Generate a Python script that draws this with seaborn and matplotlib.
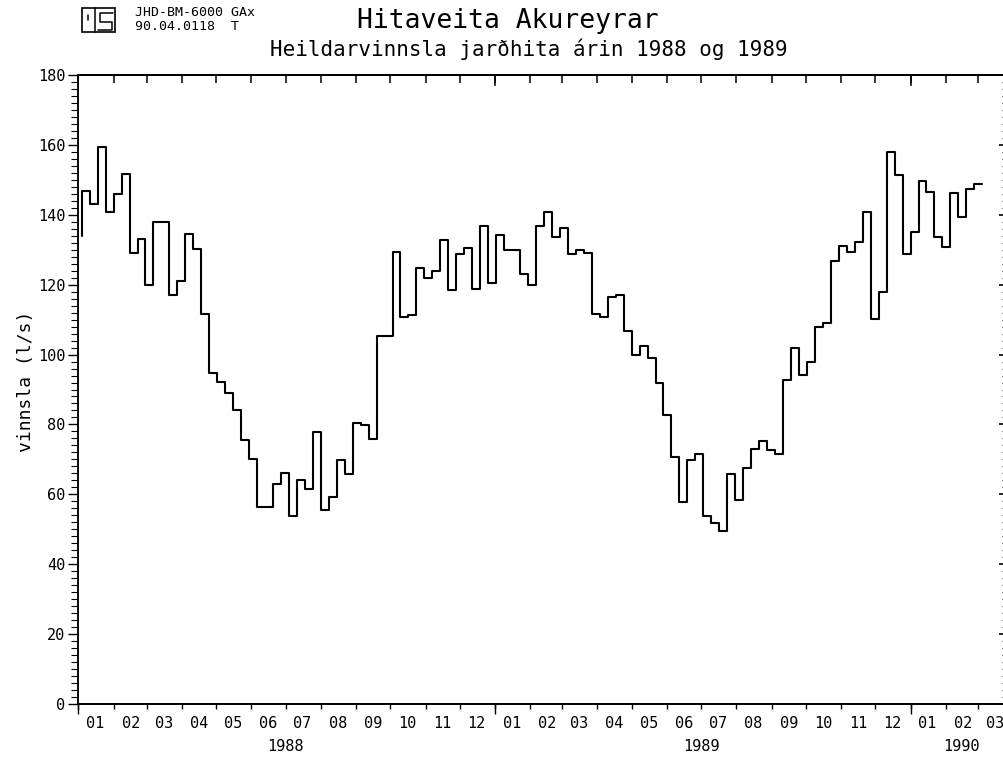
import matplotlib
matplotlib.use("Agg")
import matplotlib.pyplot as plt
import matplotlib.dates as mdates
from matplotlib.patches import Rectangle
from matplotlib.lines import Line2D
import numpy as np
import pandas as pd
import seaborn as sns

W, H = 1004, 761

# weekly total production (l/s)
week_start = "1988-01-04"
first_reading = 134
weekly_flow = [
    146.7, 143.2, 159.4, 140.7, 145.9, 151.6, 129.2, 133.2, 119.9, 137.8,
    137.8, 117.1, 121.1, 134.4, 130.1, 111.6, 94.7, 92.1, 88.9, 84.0,
    75.6, 70.2, 56.4, 56.4, 63.1, 66.1, 53.7, 64.0, 61.6, 77.8,
    55.6, 59.2, 69.9, 65.9, 80.4, 79.7, 75.9, 105.4, 105.4, 129.4,
    110.7, 111.4, 124.8, 121.8, 123.8, 132.8, 118.5, 128.8, 130.5, 118.9,
    136.9, 120.4, 134.2, 129.9, 129.9, 123.1, 119.9, 136.7, 140.9, 133.5,
    136.1, 128.9, 129.9, 129.1, 111.6, 110.7, 116.6, 117.1, 106.7, 99.9,
    102.4, 98.9, 91.8, 82.8, 70.7, 57.8, 69.9, 71.4, 53.7, 51.8,
    49.5, 65.7, 58.3, 67.5, 72.9, 75.4, 72.6, 71.6, 92.6, 101.8,
    94.2, 97.8, 107.8, 108.9, 126.9, 131.1, 129.4, 132.1, 140.9, 110.2,
    117.8, 158.1, 151.4, 128.8, 135.2, 149.7, 146.4, 133.7, 130.9, 146.1,
    139.4, 147.5, 148.9,
]

month_labels = ["01", "02", "03", "04", "05", "06", "07", "08", "09", "10", "11", "12",
                "01", "02", "03", "04", "05", "06", "07", "08", "09", "10", "11", "12",
                "01", "02", "03"]
year_labels = ["1988", "1989", "1990"]
year_label_dates = ["1988-07-01", "1989-07-01", "1990-02-15"]

title = "Hitaveita Akureyrar"
subtitle = "Heildarvinnsla jarðhita árin 1988 og 1989"
ylabel = "vinnsla (l/s)"
stamp = ["JHD-BM-6000 GAx", "90.04.0118  T"]

weeks = pd.date_range(week_start, periods=len(weekly_flow) + 1, freq="7D")
df = pd.DataFrame({"date": weeks, "flow": [first_reading] + weekly_flow})

sns.set_style("ticks")
plt.rcParams["font.family"] = ["DejaVu Sans Mono", "DejaVu Sans"]
plt.rcParams.update({
    "axes.linewidth": 1.1,
    "axes.edgecolor": "black",
    "text.color": "black",
    "xtick.color": "black",
    "ytick.color": "black",
})


def px(x, y):
    """pixel position (from top left) -> figure fraction"""
    return x / W, 1 - y / H


fig = plt.figure(figsize=(W / 100, H / 100), dpi=100)
left, right, top, bottom = 78.3, 1013, 75, 704
ax = fig.add_axes([left / W, 1 - bottom / H, (right - left) / W, (bottom - top) / H])

sns.lineplot(data=df, x="date", y="flow", drawstyle="steps-pre", color="black",
             linewidth=1.5, estimator=None, ax=ax)

x0, x1 = pd.Timestamp("1988-01-01"), pd.Timestamp("1990-04-01")
ax.set_xlim(x0, x1)
ax.set_ylim(0, 180)
ax.set_xlabel("")
ax.set_ylabel("")

month_starts = pd.date_range(x0, x1, freq="MS")
mid_months = month_starts[:-1] + pd.Timedelta(days=15)
month_nums = [float(mdates.date2num(d)) for d in month_starts]
year_starts = [float(mdates.date2num(d)) for d in pd.date_range(x0, x1, freq="YS")]

# ticks hanging down from the top frame: years longer, months short
for ticks, length in [(year_starts, 8), (month_nums, 5.5)]:
    ax_top = ax.secondary_xaxis("top")
    ax_top.set_xticks(ticks, labels=[""] * len(ticks))
    ax_top.xaxis.set_ticks_position("top")
    ax_top.tick_params(axis="x", which="major", direction="in", length=length,
                       width=1.1, labeltop=False)

# ticks pointing in from the right frame (frame itself lies past the edge)
ax_right = ax.twinx()
ax_right.set_ylim(0, 180)
ax_right.set_yticks(np.arange(0, 181, 20))
ax_right.set_yticks(np.arange(0, 181, 2), minor=True)
ax_right.tick_params(axis="y", which="both", direction="in", right=True, left=False,
                     labelright=False, labelleft=False)
ax_right.tick_params(axis="y", which="major", length=10, width=1.2)
ax_right.tick_params(axis="y", which="minor", length=8, width=0.8)

# month boundaries as ticks, month numbers centred in between
ax.set_xticks(month_starts)
ax.set_xticks(mid_months, labels=month_labels, minor=True)
ax.tick_params(axis="x", which="major", direction="out", length=3.6, width=1,
               labelbottom=False)
ax.tick_params(axis="x", which="minor", length=0, pad=9, labelsize=11,
               labelbottom=True)

# longer ticks at year boundaries + year labels underneath
sec = ax.secondary_xaxis("bottom")
sec.set_xticks(year_starts, labels=[""] * len(year_starts))
sec.set_xticks(mdates.date2num(pd.to_datetime(year_label_dates)), labels=year_labels, minor=True)
sec.tick_params(which="major", direction="out", length=7.5, width=1)
sec.tick_params(which="minor", length=0, pad=25, labelsize=11)

ax.set_yticks(np.arange(0, 181, 20))
ax.set_yticks(np.arange(0, 181, 2), minor=True)
ax.tick_params(axis="y", which="major", direction="out", length=7.2, width=1,
               pad=2, labelsize=11)
ax.tick_params(axis="y", which="minor", direction="out", length=4.7, width=0.8)

for a in fig.axes:
    for s in a.spines.values():
        s.set_color("black")
        s.set_linewidth(1.1)

fig.text(*px(26, 381), ylabel, rotation=90, ha="center", va="center", fontsize=13)

# header
fig.text(*px(357, 21), title, fontsize=19, va="center")
fig.text(*px(270, 49), subtitle, fontsize=15, va="center")
fig.text(*px(135, 13), stamp[0], fontsize=9.5, va="center")
fig.text(*px(135, 27), stamp[1], fontsize=9.5, va="center")

# small logo box
fig.add_artist(Rectangle(px(81.7, 32.3), 33.3 / W, 24 / H, transform=fig.transFigure,
                         fill=False, lw=1.2, color="black"))
for xs, ys in [([95, 95], [8.3, 32.3]),
               ([88.3, 88.3], [15, 20]),
               ([113.3, 100, 100, 111.7, 111.7, 98.3], [13.3, 13.3, 21.7, 21.7, 30, 30])]:
    fx = [x / W for x in xs]
    fy = [1 - y / H for y in ys]
    fig.add_artist(Line2D(fx, fy, transform=fig.transFigure, color="black", lw=1.1))

plt.savefig("out.png", dpi=100)
plt.close()
